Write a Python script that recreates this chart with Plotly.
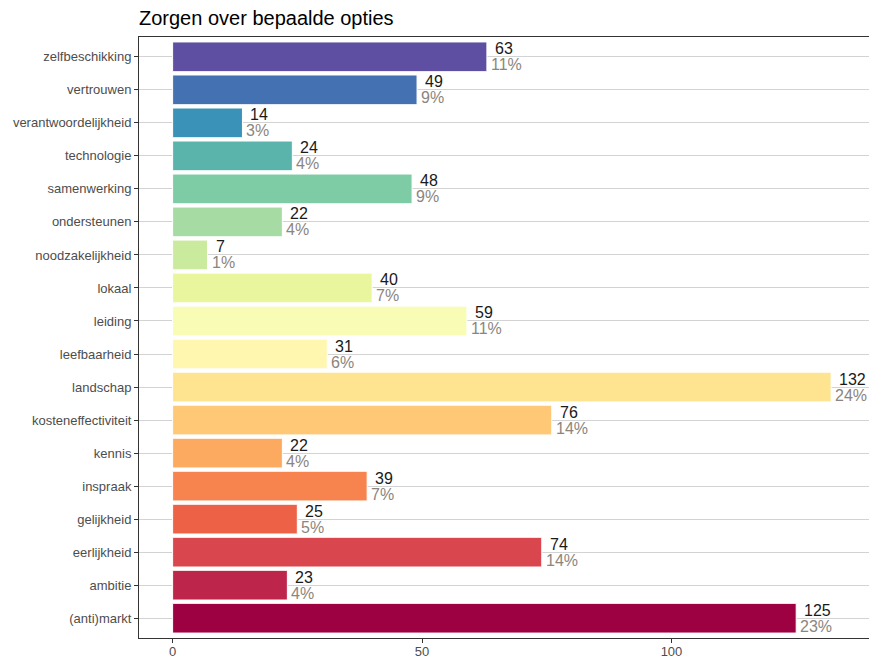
import plotly.graph_objects as go

categories = ["(anti)markt", "ambitie", "eerlijkheid", "gelijkheid", "inspraak", "kennis",
              "kosteneffectiviteit", "landschap", "leefbaarheid", "leiding", "lokaal",
              "noodzakelijkheid", "ondersteunen", "samenwerking", "technologie",
              "verantwoordelijkheid", "vertrouwen", "zelfbeschikking"]
counts = [125, 23, 74, 25, 39, 22, 76, 132, 31, 59, 40, 7, 22, 48, 24, 14, 49, 63]
percents = [23, 4, 14, 5, 7, 4, 14, 24, 6, 11, 7, 1, 4, 9, 4, 3, 9, 11]
x_ticks = [0, 50, 100]
title = "Zorgen over bepaalde opties"

spectral = ["#9E0142", "#D53E4F", "#F46D43", "#FDAE61", "#FEE08B", "#FFFFBF",
            "#E6F598", "#ABDDA4", "#66C2A5", "#3288BD", "#5E4FA2"]


def ramp(cols, n):
    rgb = [tuple(int(c[i:i + 2], 16) for i in (1, 3, 5)) for c in cols]
    out = []
    for k in range(n):
        t = k / (n - 1) * (len(rgb) - 1)
        i = min(int(t), len(rgb) - 2)
        f = t - i
        r, g, b = (round(rgb[i][j] + (rgb[i + 1][j] - rgb[i][j]) * f) for j in range(3))
        out.append(f"#{r:02x}{g:02x}{b:02x}")
    return out


colors = ramp(spectral, len(categories))

fig = go.Figure()
fig.add_trace(go.Bar(
    x=counts, y=categories, orientation="h",
    marker=dict(color=colors, line=dict(color="white", width=1)),
    width=0.9, hoverinfo="x+y", showlegend=False,
))

annotations = []
for c, n, p in zip(categories, counts, percents):
    annotations.append(dict(x=n, y=c, xref="x", yref="y", text=str(n), showarrow=False,
                            xanchor="left", yanchor="middle", xshift=6, yshift=8,
                            font=dict(size=16, color="#1a1a1a")))
    annotations.append(dict(x=n, y=c, xref="x", yref="y", text=f"{p}%", showarrow=False,
                            xanchor="left", yanchor="middle", xshift=2, yshift=-8,
                            font=dict(size=16, color="#8c857e")))

# the page body adds an 8px offset; the figure is sized so the plot lands where the reference has it
W, H = 869, 651
fig.update_layout(
    width=W, height=H,
    margin=dict(l=131, r=0, t=29, b=21, autoexpand=False),
    paper_bgcolor="white", plot_bgcolor="white",
    font=dict(family="Liberation Sans, Arial, sans-serif"),
    title=dict(text=title, x=0, xanchor="left", xref="paper",
               y=1 - 10 / H, yanchor="middle", yref="container",
               font=dict(size=20, color="black")),
    annotations=annotations,
)
fig.update_xaxes(range=[-6.74, 141.2], tickvals=x_ticks, showgrid=False, zeroline=False,
                 showline=True, linecolor="#333333", linewidth=1, mirror=True,
                 ticks="outside", ticklen=4, tickcolor="#333333", ticklabelstandoff=-3,
                 tickfont=dict(size=13, color="#4d4d4d"), automargin=False)
fig.update_yaxes(categoryorder="array", categoryarray=categories,
                 range=[-0.6, len(categories) - 0.4],
                 showgrid=True, gridcolor="#d3d3d3", gridwidth=1,
                 showline=True, linecolor="#333333", linewidth=1,
                 ticks="outside", ticklen=4, tickcolor="#333333",
                 tickfont=dict(size=13, color="#4d4d4d"), automargin=False)

fig.write_html("out.html")
